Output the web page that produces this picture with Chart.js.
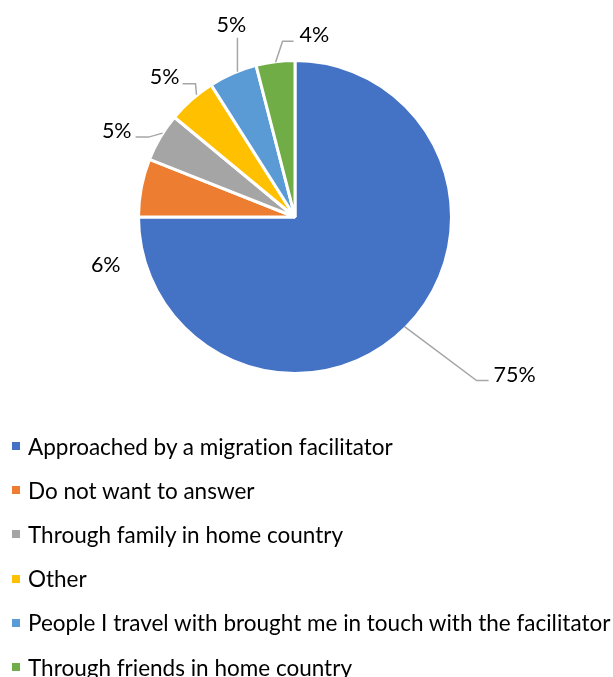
<!DOCTYPE html>
<html>
<head>
<meta charset="utf-8">
<script src="https://cdn.jsdelivr.net/npm/chart.js@4"></script>
<style>
  html, body { margin: 0; padding: 0; background: #fff; }
  #wrap { position: relative; width: 613px; height: 677px; overflow: hidden; font-family: Lato, sans-serif; }
  #chartBox { position: absolute; left: 0; top: 0; width: 613px; height: 434px; }
  #legend { position: absolute; left: 12px; top: 424px; margin: 0; padding: 0; list-style: none; }
  #legend li { height: 44.2px; display: flex; align-items: center; font-size: 22.5px; color: #000; white-space: nowrap; font-variant-ligatures: none; }
  #legend .box { width: 8px; height: 8px; margin-right: 8px; flex: none; }
</style>
</head>
<body>
<div id="wrap">
  <div id="chartBox"><canvas id="pie"></canvas></div>
  <ul id="legend"></ul>
</div>
<script>
// categories and values (percent of respondents)
const categories = [
  "Approached by a migration facilitator",
  "Do not want to answer",
  "Through family in home country",
  "Other",
  "People I travel with brought me in touch with the facilitator",
  "Through friends in home country"
];
const shares = [75, 6, 5, 5, 5, 4];
const colors = ["#4472C4", "#ED7D31", "#A5A5A5", "#FFC000", "#5B9BD5", "#70AD47"];

/*******************************************************
 * label placement, relative to the mid point of each arc edge
 *******************************************************/
const labelLayout = [
  { line: [[0, 0], [72, 54], [84, 54]], at: [89, 48], align: "left" },
  { line: null, at: [-37, 77], align: "center" },
  { line: [[1, -5], [-13, -1], [-26, -1]], at: [-30, -7], align: "right" },
  { line: [[4, -6], [3, -17], [-10, -17]], at: [-13, -24], align: "right" },
  { line: [[4, -3], [4, -37]], at: [-2, -50], align: "center" },
  { line: [[0, -1], [7, -22], [18, -22]], at: [24, -28], align: "left" }
];

const leaderPlugin = {
  id: "leaders",
  afterDatasetsDraw(chart) {
    const ctx = chart.ctx;
    const arcs = chart.getDatasetMeta(0).data;
    const total = shares.reduce((a, b) => a + b, 0);
    ctx.save();
    arcs.forEach((arc, i) => {
      const p = arc.getProps(["x", "y", "startAngle", "endAngle", "outerRadius"], true);
      const mid = (p.startAngle + p.endAngle) / 2;
      const r = p.outerRadius - 1.5;
      const ex = p.x + Math.cos(mid) * r;
      const ey = p.y + Math.sin(mid) * r;
      const cfg = labelLayout[i];
      if (cfg.line) {
        ctx.beginPath();
        cfg.line.forEach((pt, k) => {
          if (k === 0) ctx.moveTo(ex + pt[0], ey + pt[1]);
          else ctx.lineTo(ex + pt[0], ey + pt[1]);
        });
        ctx.strokeStyle = "#A6A6A6";
        ctx.lineWidth = 1.5;
        ctx.stroke();
      }
      ctx.fillStyle = "#000";
      ctx.font = "21.5px Lato";
      ctx.textAlign = cfg.align;
      ctx.textBaseline = "middle";
      ctx.fillText(Math.round(shares[i] / total * 100) + "%", ex + cfg.at[0], ey + cfg.at[1]);
    });
    ctx.restore();
  }
};

new Chart(document.getElementById("pie").getContext("2d"), {
  type: "pie",
  data: {
    labels: categories,
    datasets: [{
      data: shares,
      backgroundColor: colors,
      borderColor: "#FFFFFF",
      borderWidth: 3
    }]
  },
  options: {
    responsive: true,
    maintainAspectRatio: false,
    animation: false,
    layout: { padding: { left: 137, right: 160, top: 59, bottom: 59 } },
    plugins: {
      legend: { display: false },
      tooltip: { enabled: false }
    }
  },
  plugins: [leaderPlugin]
});

// legend, one entry per line
const legendEl = document.getElementById("legend");
categories.forEach((name, i) => {
  const li = document.createElement("li");
  li.innerHTML = `<span class="box" style="background:${colors[i]}"></span><span>${name}</span>`;
  legendEl.appendChild(li);
});
</script>
</body>
</html>
